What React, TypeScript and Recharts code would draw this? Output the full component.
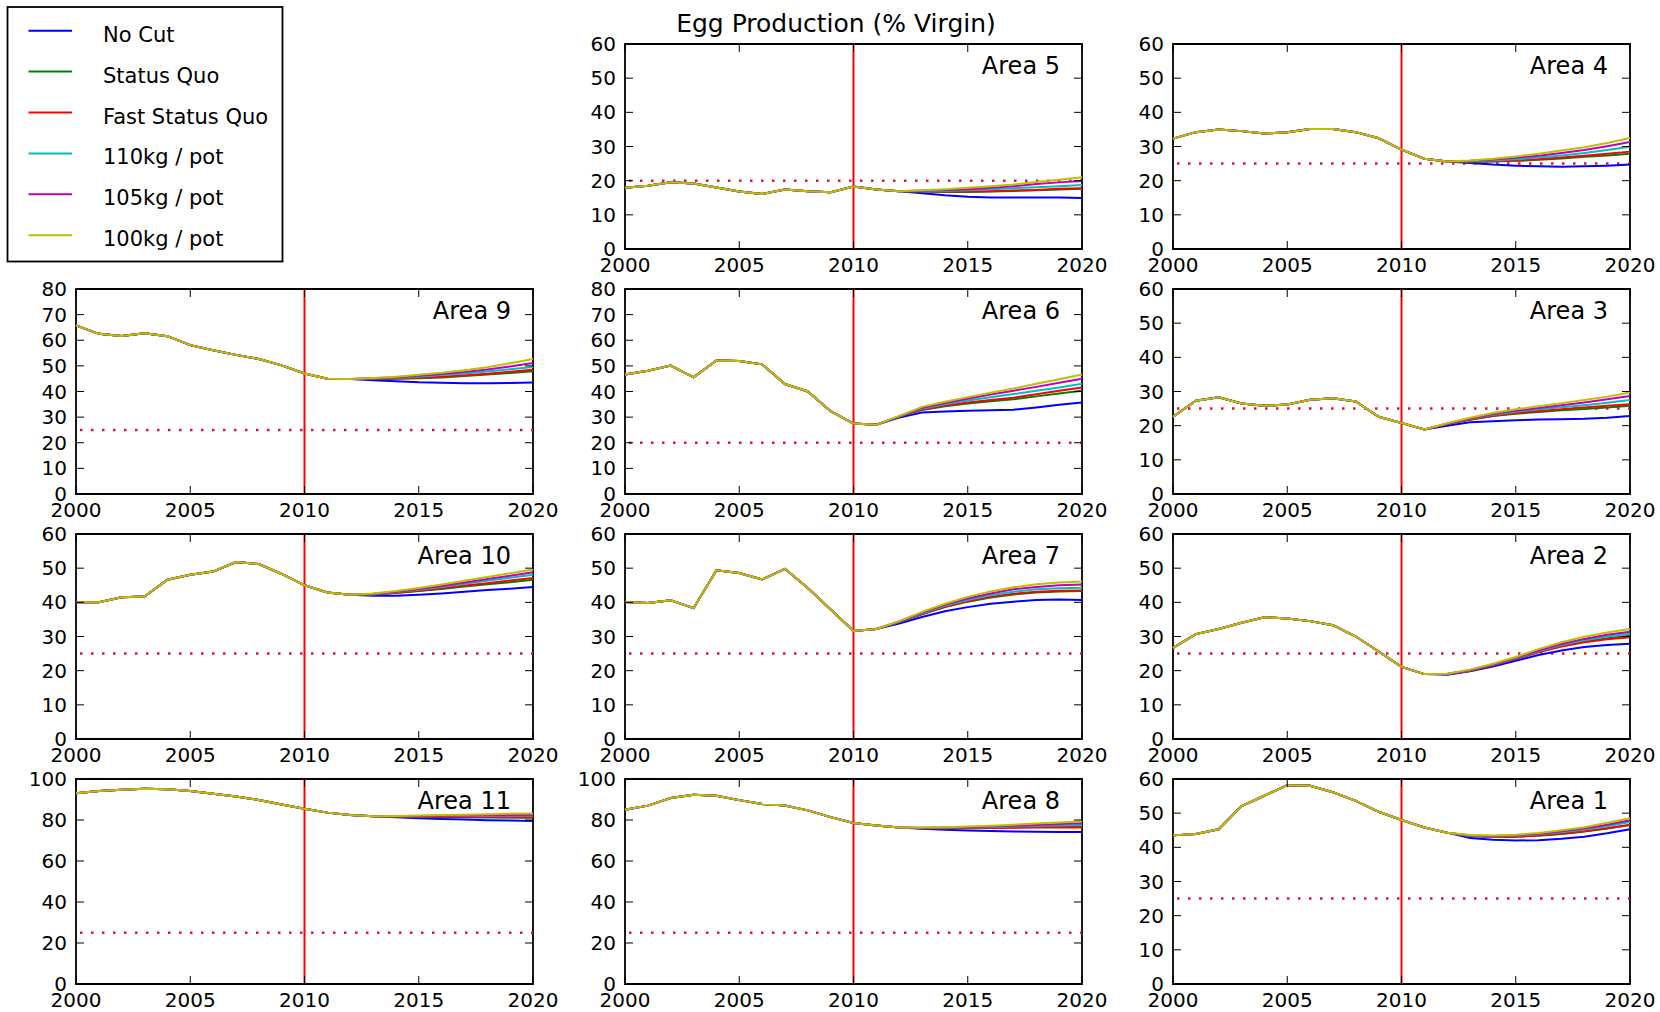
import React from 'react';
import { LineChart, Line, XAxis, YAxis, ReferenceLine, ReferenceArea } from 'recharts';

// ---------- categories & ticks ----------
const YEARS = [2000, 2001, 2002, 2003, 2004, 2005, 2006, 2007, 2008, 2009, 2010,
  2011, 2012, 2013, 2014, 2015, 2016, 2017, 2018, 2019, 2020];
const X_TICKS = [2000, 2005, 2010, 2015, 2020];
const Y_TICKS_60 = [0, 10, 20, 30, 40, 50, 60];
const Y_TICKS_80 = [0, 10, 20, 30, 40, 50, 60, 70, 80];
const Y_TICKS_100 = [0, 20, 40, 60, 80, 100];
const CUT_YEAR = 2010;
const CHART_TITLE = 'Egg Production (% Virgin)';

const SERIES = [
  { key: 'noCut', name: 'No Cut', color: '#0000ff' },
  { key: 'statusQuo', name: 'Status Quo', color: '#008000' },
  { key: 'fastStatusQuo', name: 'Fast Status Quo', color: '#ff0000' },
  { key: 'kg110', name: '110kg / pot', color: '#00bfbf' },
  { key: 'kg105', name: '105kg / pot', color: '#bf00bf' },
  { key: 'kg100', name: '100kg / pot', color: '#bfbf00' },
];

// ---------- Area 5 (history 2000-2012, projections 2013-2020) ----------
const A5_HIST = [17.9, 18.5, 19.5, 19.2, 18.0, 16.8, 16.1, 17.4, 16.9, 16.6, 18.3, 17.4, 16.9];
const A5_NOCUT = [16.3, 15.7, 15.3, 15.1, 15.1, 15.1, 15.1, 14.9];
const A5_SQ = [16.8, 16.7, 16.7, 16.8, 17.0, 17.2, 17.4, 17.6];
const A5_FSQ = [16.9, 16.8, 16.8, 16.9, 17.1, 17.3, 17.6, 17.8];
const A5_110 = [17.0, 17.0, 17.2, 17.5, 17.8, 18.1, 18.4, 18.7];
const A5_105 = [17.1, 17.2, 17.5, 17.9, 18.4, 19.0, 19.5, 19.9];
const A5_100 = [17.2, 17.5, 17.9, 18.4, 18.9, 19.6, 20.3, 21.0];

// ---------- Area 4 ----------
const A4_HIST = [32.3, 34.2, 35.0, 34.5, 33.8, 34.2, 35.1, 35.1, 34.2, 32.4, 29.1, 26.4, 25.6];
const A4_NOCUT = [25.2, 24.7, 24.4, 24.2, 24.1, 24.2, 24.4, 24.7];
const A4_SQ = [25.5, 25.6, 25.8, 26.1, 26.5, 27.0, 27.4, 27.9];
const A4_FSQ = [25.6, 25.7, 25.9, 26.3, 26.8, 27.3, 27.9, 28.5];
const A4_110 = [25.7, 25.9, 26.3, 26.8, 27.4, 28.1, 29.0, 29.9];
const A4_105 = [25.8, 26.2, 26.7, 27.3, 28.1, 29.0, 30.1, 31.3];
const A4_100 = [25.9, 26.4, 27.1, 27.9, 28.8, 29.8, 31.0, 32.5];

// ---------- Area 9 ----------
const A9_HIST = [65.8, 62.5, 61.7, 62.7, 61.6, 58.1, 56.1, 54.3, 52.7, 50.2, 47.0, 45.0, 44.9];
const A9_NOCUT = [44.4, 44.0, 43.6, 43.4, 43.2, 43.2, 43.3, 43.5];
const A9_SQ = [44.9, 45.0, 45.2, 45.5, 46.0, 46.6, 47.2, 47.9];
const A9_FSQ = [45.0, 45.1, 45.4, 45.8, 46.3, 46.9, 47.7, 48.5];
const A9_110 = [45.1, 45.4, 45.8, 46.4, 47.0, 47.8, 48.7, 49.6];
const A9_105 = [45.2, 45.6, 46.1, 46.8, 47.6, 48.6, 49.8, 51.1];
const A9_100 = [45.3, 45.8, 46.5, 47.3, 48.3, 49.5, 51.0, 52.7];

// ---------- Area 6 (history 2000-2011, projections 2012-2020) ----------
const A6_HIST = [46.6, 48.1, 50.1, 45.5, 52.1, 51.9, 50.6, 42.9, 40.0, 32.3, 27.5, 27.0];
const A6_NOCUT = [29.8, 31.8, 32.2, 32.5, 32.7, 32.9, 33.8, 34.8, 35.7];
const A6_SQ = [30.2, 32.8, 34.2, 35.3, 36.2, 37.0, 38.1, 39.2, 40.3];
const A6_FSQ = [30.2, 33.0, 34.5, 35.7, 36.7, 37.6, 38.9, 40.3, 41.6];
const A6_110 = [30.3, 33.3, 35.0, 36.5, 37.8, 39.0, 40.3, 41.6, 43.0];
const A6_105 = [30.4, 33.6, 35.5, 37.2, 38.8, 40.3, 41.8, 43.4, 45.0];
const A6_100 = [30.5, 34.0, 36.0, 37.8, 39.5, 41.2, 43.0, 44.8, 46.6];

// ---------- Area 3 ----------
const A3_HIST = [22.6, 27.3, 28.3, 26.5, 25.8, 26.2, 27.6, 28.0, 27.1, 22.6, 20.8, 18.9];
const A3_NOCUT = [20.0, 21.0, 21.3, 21.6, 21.8, 21.9, 22.0, 22.3, 22.8];
const A3_SQ = [20.5, 21.7, 22.8, 23.5, 24.0, 24.5, 24.9, 25.3, 25.8];
const A3_FSQ = [20.5, 21.8, 22.9, 23.7, 24.3, 24.8, 25.3, 25.8, 26.3];
const A3_110 = [20.6, 22.0, 23.2, 24.1, 24.8, 25.4, 26.0, 26.7, 27.5];
const A3_105 = [20.6, 22.1, 23.4, 24.4, 25.2, 26.0, 26.8, 27.7, 28.7];
const A3_100 = [20.7, 22.3, 23.7, 24.8, 25.7, 26.6, 27.5, 28.5, 29.7];

// ---------- Area 10 ----------
const A10_HIST = [40.0, 40.0, 41.5, 41.7, 46.6, 48.1, 49.0, 51.8, 51.2, 48.3, 45.0, 42.9, 42.2];
const A10_NOCUT = [41.9, 41.9, 42.2, 42.6, 43.1, 43.6, 44.0, 44.5];
const A10_SQ = [42.3, 42.7, 43.3, 43.9, 44.6, 45.3, 45.9, 46.6];
const A10_FSQ = [42.3, 42.8, 43.4, 44.1, 44.9, 45.6, 46.4, 47.1];
const A10_110 = [42.4, 43.0, 43.7, 44.5, 45.4, 46.3, 47.2, 48.1];
const A10_105 = [42.5, 43.1, 43.9, 44.8, 45.8, 46.8, 47.8, 48.8];
const A10_100 = [42.6, 43.3, 44.2, 45.2, 46.3, 47.4, 48.5, 49.6];

// ---------- Area 7 ----------
const A7_HIST = [40.1, 39.8, 40.6, 38.3, 49.4, 48.6, 46.7, 49.8, 44.2, 37.9, 31.6, 32.2];
const A7_NOCUT = [33.8, 35.7, 37.4, 38.6, 39.6, 40.2, 40.7, 40.8, 40.7];
const A7_SQ = [34.2, 36.5, 38.6, 40.2, 41.4, 42.3, 42.9, 43.2, 43.3];
const A7_FSQ = [34.2, 36.6, 38.7, 40.3, 41.6, 42.5, 43.1, 43.4, 43.5];
const A7_110 = [34.3, 36.8, 39.0, 40.7, 42.1, 43.1, 43.8, 44.1, 44.3];
const A7_105 = [34.4, 37.0, 39.3, 41.1, 42.6, 43.8, 44.5, 45.0, 45.2];
const A7_100 = [34.5, 37.2, 39.6, 41.6, 43.2, 44.4, 45.3, 45.8, 46.1];

// ---------- Area 2 ----------
const A2_HIST = [26.7, 30.7, 32.2, 34.0, 35.6, 35.3, 34.5, 33.3, 30.0, 25.6, 21.1, 19.0];
const A2_NOCUT = [18.8, 19.8, 21.2, 22.9, 24.6, 25.9, 26.9, 27.5, 27.9];
const A2_SQ = [19.0, 20.0, 21.6, 23.5, 25.5, 27.2, 28.5, 29.5, 30.2];
const A2_FSQ = [19.0, 20.0, 21.6, 23.4, 25.4, 27.1, 28.3, 29.2, 29.8];
const A2_110 = [19.0, 20.1, 21.7, 23.6, 25.7, 27.5, 28.9, 30.0, 30.8];
const A2_105 = [19.0, 20.2, 21.8, 23.8, 25.9, 27.8, 29.3, 30.5, 31.4];
const A2_100 = [19.1, 20.3, 22.0, 24.0, 26.3, 28.3, 29.9, 31.2, 32.2];

// ---------- Area 11 (history 2000-2013, projections 2014-2020) ----------
const A11_HIST = [93.0, 94.1, 94.8, 95.3, 95.0, 94.1, 92.8, 91.5, 89.8, 87.6, 85.5, 83.6, 82.4, 81.8];
const A11_NOCUT = [81.3, 80.9, 80.5, 80.2, 79.9, 79.7, 79.5];
const A11_SQ = [81.6, 81.5, 81.4, 81.3, 81.2, 81.2, 81.1];
const A11_FSQ = [81.7, 81.6, 81.6, 81.5, 81.5, 81.4, 81.4];
const A11_110 = [81.8, 81.8, 81.9, 82.0, 82.0, 82.1, 82.2];
const A11_105 = [81.9, 82.0, 82.1, 82.2, 82.3, 82.4, 82.5];
const A11_100 = [82.0, 82.2, 82.4, 82.6, 82.8, 83.0, 83.2];

// ---------- Area 8 ----------
const A8_HIST = [85.0, 87.0, 90.7, 92.3, 91.8, 89.7, 87.8, 87.1, 84.7, 81.4, 78.5, 77.3, 76.3];
const A8_NOCUT = [75.7, 75.2, 74.9, 74.6, 74.4, 74.3, 74.2, 74.2];
const A8_SQ = [76.0, 76.0, 76.1, 76.2, 76.4, 76.6, 76.8, 77.0];
const A8_FSQ = [76.0, 76.0, 76.0, 76.1, 76.2, 76.3, 76.3, 76.4];
const A8_110 = [76.1, 76.2, 76.3, 76.5, 76.8, 77.1, 77.3, 77.6];
const A8_105 = [76.2, 76.3, 76.5, 76.8, 77.2, 77.6, 78.0, 78.4];
const A8_100 = [76.3, 76.5, 76.8, 77.2, 77.7, 78.3, 78.8, 79.4];

// ---------- Area 1 ----------
const A1_HIST = [43.5, 43.9, 45.3, 52.1, 55.1, 58.2, 58.0, 56.1, 53.6, 50.4, 48.0, 45.8, 44.3];
const A1_NOCUT = [42.7, 42.2, 42.0, 42.1, 42.5, 43.1, 44.1, 45.3];
const A1_SQ = [43.3, 43.0, 43.1, 43.4, 43.9, 44.6, 45.5, 46.5];
const A1_FSQ = [43.3, 43.0, 43.1, 43.5, 44.0, 44.7, 45.6, 46.6];
const A1_110 = [43.4, 43.2, 43.4, 43.8, 44.4, 45.2, 46.2, 47.4];
const A1_105 = [43.5, 43.3, 43.5, 44.0, 44.7, 45.5, 46.6, 47.9];
const A1_100 = [43.6, 43.5, 43.7, 44.2, 45.0, 45.9, 47.2, 48.5];

// panel table: grid position, y ticks, reference level, and the series arrays
const PANELS = [
  { label: 'Area 5', row: 0, col: 1, yTicks: Y_TICKS_60, target: 20, history: A5_HIST, projections: [A5_NOCUT, A5_SQ, A5_FSQ, A5_110, A5_105, A5_100] },
  { label: 'Area 4', row: 0, col: 2, yTicks: Y_TICKS_60, target: 25, history: A4_HIST, projections: [A4_NOCUT, A4_SQ, A4_FSQ, A4_110, A4_105, A4_100] },
  { label: 'Area 9', row: 1, col: 0, yTicks: Y_TICKS_80, target: 25, history: A9_HIST, projections: [A9_NOCUT, A9_SQ, A9_FSQ, A9_110, A9_105, A9_100] },
  { label: 'Area 6', row: 1, col: 1, yTicks: Y_TICKS_80, target: 20, history: A6_HIST, projections: [A6_NOCUT, A6_SQ, A6_FSQ, A6_110, A6_105, A6_100] },
  { label: 'Area 3', row: 1, col: 2, yTicks: Y_TICKS_60, target: 25, history: A3_HIST, projections: [A3_NOCUT, A3_SQ, A3_FSQ, A3_110, A3_105, A3_100] },
  { label: 'Area 10', row: 2, col: 0, yTicks: Y_TICKS_60, target: 25, history: A10_HIST, projections: [A10_NOCUT, A10_SQ, A10_FSQ, A10_110, A10_105, A10_100] },
  { label: 'Area 7', row: 2, col: 1, yTicks: Y_TICKS_60, target: 25, history: A7_HIST, projections: [A7_NOCUT, A7_SQ, A7_FSQ, A7_110, A7_105, A7_100] },
  { label: 'Area 2', row: 2, col: 2, yTicks: Y_TICKS_60, target: 25, history: A2_HIST, projections: [A2_NOCUT, A2_SQ, A2_FSQ, A2_110, A2_105, A2_100] },
  { label: 'Area 11', row: 3, col: 0, yTicks: Y_TICKS_100, target: 25, history: A11_HIST, projections: [A11_NOCUT, A11_SQ, A11_FSQ, A11_110, A11_105, A11_100] },
  { label: 'Area 8', row: 3, col: 1, yTicks: Y_TICKS_100, target: 25, history: A8_HIST, projections: [A8_NOCUT, A8_SQ, A8_FSQ, A8_110, A8_105, A8_100] },
  { label: 'Area 1', row: 3, col: 2, yTicks: Y_TICKS_60, target: 25, history: A1_HIST, projections: [A1_NOCUT, A1_SQ, A1_FSQ, A1_110, A1_105, A1_100] },
];

// ---------- layout ----------
const FONT = "'DejaVu Sans', 'Liberation Sans', sans-serif";
const PLOT_W = 457;
const PLOT_H = 205;
const COL_X = [76, 625, 1173];
const ROW_Y = [43.5, 288.5, 533.5, 778.5];
const MARGIN = { top: 15, right: 40, bottom: 0, left: 0 };
const Y_AXIS_W = 60;
const X_AXIS_H = 35;
const TICK_LEN = 8;
const CHART_W = MARGIN.left + Y_AXIS_W + PLOT_W + MARGIN.right;
const CHART_H = MARGIN.top + PLOT_H + X_AXIS_H + MARGIN.bottom;

function buildRows(history: number[], projections: number[][]) {
  return YEARS.map((year, i) => {
    const row: Record<string, number> = { year };
    SERIES.forEach((s, k) => {
      row[s.key] = i < history.length ? history[i] : projections[k][i - history.length];
    });
    return row;
  });
}

// bottom ticks: label below, inward marks on bottom and top edges
const XTick = (props: any) => {
  const { x, y, payload } = props;
  return (
    <g>
      <line x1={x} y1={y} x2={x} y2={y - TICK_LEN} stroke="#000" strokeWidth={1} />
      <line x1={x} y1={y - PLOT_H} x2={x} y2={y - PLOT_H + TICK_LEN} stroke="#000" strokeWidth={1} />
      <text x={x} y={y + 23} textAnchor="middle" fontFamily={FONT} fontSize={20} fill="#000">
        {payload.value}
      </text>
    </g>
  );
};

// left ticks: label at left, inward marks on left and right edges
const YTick = (props: any) => {
  const { x, y, payload } = props;
  return (
    <g>
      <line x1={x} y1={y} x2={x + TICK_LEN} y2={y} stroke="#000" strokeWidth={1} />
      <line x1={x + PLOT_W} y1={y} x2={x + PLOT_W - TICK_LEN} y2={y} stroke="#000" strokeWidth={1} />
      <text x={x - 9} y={y + 7} textAnchor="end" fontFamily={FONT} fontSize={20} fill="#000">
        {payload.value}
      </text>
    </g>
  );
};

function Panel({ panel }: { panel: (typeof PANELS)[number] }) {
  const rows = buildRows(panel.history, panel.projections);
  const yMax = panel.yTicks[panel.yTicks.length - 1];
  const left = COL_X[panel.col] - Y_AXIS_W - MARGIN.left;
  const top = ROW_Y[panel.row] - MARGIN.top;
  return (
    <div style={{ position: 'absolute', left, top, width: CHART_W, height: CHART_H }}>
      <LineChart width={CHART_W} height={CHART_H} data={rows} margin={MARGIN}>
        <XAxis
          dataKey="year"
          type="number"
          domain={[2000, 2020]}
          ticks={X_TICKS}
          interval={0}
          height={X_AXIS_H}
          axisLine={false}
          tickLine={false}
          tickSize={0}
          tickMargin={0}
          tick={XTick}
        />
        <YAxis
          type="number"
          domain={[0, yMax]}
          ticks={panel.yTicks}
          interval={0}
          width={Y_AXIS_W}
          axisLine={false}
          tickLine={false}
          tickSize={0}
          tickMargin={0}
          tick={YTick}
        />
        <ReferenceLine x={CUT_YEAR} stroke="#ff0000" strokeWidth={2} />
        <ReferenceLine
          y={panel.target}
          stroke="#dc143c"
          strokeWidth={2.5}
          strokeDasharray="2.5 8.5"
          strokeDashoffset={-4}
        />
        {SERIES.map((s) => (
          <Line
            key={s.key}
            type="linear"
            dataKey={s.key}
            name={s.name}
            stroke={s.color}
            strokeWidth={2}
            dot={false}
            activeDot={false}
            isAnimationActive={false}
          />
        ))}
        <ReferenceArea
          x1={2000}
          x2={2020}
          y1={0}
          y2={yMax}
          fill="none"
          fillOpacity={0}
          stroke="#000"
          strokeWidth={1.8}
          label={(p: any) => {
            const vb = p.viewBox || {};
            return (
              <text
                x={vb.x + vb.width - 22}
                y={vb.y + 30}
                textAnchor="end"
                fontFamily={FONT}
                fontSize={24}
                fill="#000"
              >
                {panel.label}
              </text>
            );
          }}
        />
      </LineChart>
    </div>
  );
}

function LegendAndTitle() {
  const rowY0 = 30.7;
  const rowGap = 40.9;
  return (
    <svg
      width={1660}
      height={1012}
      style={{ position: 'absolute', left: 0, top: 0, pointerEvents: 'none' }}
    >
      <text x={836} y={31.7} textAnchor="middle" fontFamily={FONT} fontSize={25} fill="#000">
        {CHART_TITLE}
      </text>
      <rect x={7.5} y={7} width={275} height={254.5} fill="#fff" stroke="#000" strokeWidth={1.8} />
      {SERIES.map((s, i) => {
        const yy = rowY0 + i * rowGap;
        return (
          <g key={s.key}>
            <line x1={28.5} x2={72} y1={yy} y2={yy} stroke={s.color} strokeWidth={2} />
            <text x={103} y={yy + 11} fontFamily={FONT} fontSize={21} fill="#000">
              {s.name}
            </text>
          </g>
        );
      })}
    </svg>
  );
}

export default function App() {
  return (
    <div
      style={{
        position: 'absolute',
        left: 0,
        top: 0,
        width: 1660,
        height: 1012,
        background: '#fff',
        overflow: 'hidden',
      }}
    >
      <LegendAndTitle />
      {PANELS.map((p) => (
        <Panel key={p.label} panel={p} />
      ))}
    </div>
  );
}
